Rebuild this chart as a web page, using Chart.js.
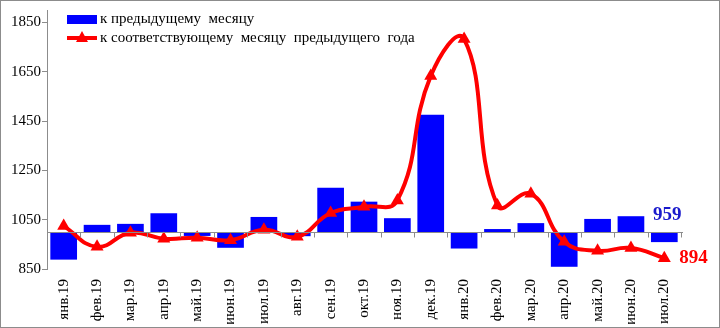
<!DOCTYPE html>
<html>
<head>
<meta charset="utf-8">
<script src="https://cdn.jsdelivr.net/npm/chart.js@4"></script>
<style>
  html, body { margin: 0; padding: 0; background: #fff; }
  #wrap { width: 720px; height: 328px; position: relative; }
</style>
</head>
<body>
<div id="wrap"><canvas id="chart"></canvas></div>
<script>
// months
var labels = ['янв.19', 'фев.19', 'мар.19', 'апр.19', 'май.19', 'июн.19', 'июл.19', 'авг.19', 'сен.19',
  'окт.19', 'ноя.19', 'дек.19', 'янв.20', 'фев.20', 'мар.20', 'апр.20', 'май.20', 'июн.20', 'июл.20'];

// к предыдущему месяцу (bars start at base 1000)
var toPrevMonth = [888, 1029, 1033, 1076, 984, 936, 1061, 983, 1179, 1123, 1056, 1475, 933, 1012, 1036, 859, 1053, 1064, 959];

// к соответствующему месяцу предыдущего года
var toPrevYear = [1024, 940, 997, 973, 977, 967, 1009, 981, 1077, 1102, 1128, 1632, 1782, 1107, 1155, 960, 924, 935, 894];

var yTicks = [850, 1050, 1250, 1450, 1650, 1850];
var base = 1000;

var serif = '"Liberation Serif", "Times New Roman", serif';

var barData = toPrevMonth.map(function(v) { return [base, v]; });

// baseline at 1000 with tick marks, legend, end labels, frame
var extras = {
  id: 'extras',
  afterDatasetsDraw: function(chart) {
    var ctx = chart.ctx;
    var x = chart.scales.x, y = chart.scales.y;
    var y0 = Math.round(y.getPixelForValue(base)) + 0.5;
    ctx.save();
    ctx.strokeStyle = '#8c8c8c';
    ctx.lineWidth = 1;
    ctx.beginPath();
    ctx.moveTo(chart.chartArea.left, y0);
    ctx.lineTo(chart.chartArea.right + 2, y0);
    var step = x.getPixelForValue(1) - x.getPixelForValue(0);
    for (var i = 1; i <= labels.length; i++) {
      var bx = Math.round(x.getPixelForValue(i) - step / 2) + 0.5;
      ctx.moveTo(bx, y0);
      ctx.lineTo(bx, y0 + 5);
    }
    ctx.stroke();
    ctx.restore();
  },
  afterDraw: function(chart) {
    var ctx = chart.ctx;
    var x = chart.scales.x, y = chart.scales.y;
    var last = labels.length - 1;
    ctx.save();
    // end value labels
    ctx.font = 'bold 19px ' + serif;
    ctx.textBaseline = 'middle';
    ctx.textAlign = 'center';
    ctx.fillStyle = '#1a1acc';
    ctx.fillText(String(toPrevMonth[last]), x.getPixelForValue(last) + 3, y.getPixelForValue(base) - 17);
    ctx.fillStyle = '#ff0000';
    ctx.textAlign = 'left';
    ctx.fillText(String(toPrevYear[last]), x.getPixelForValue(last) + 15, y.getPixelForValue(toPrevYear[last]));

    // legend
    ctx.font = '15px ' + serif;
    ctx.textAlign = 'left';
    ctx.fillStyle = '#0000ff';
    ctx.fillRect(67, 15, 30, 9);
    ctx.fillStyle = '#000';
    ctx.fillText('к предыдущему  месяцу', 100, 19);
    ctx.strokeStyle = '#ff0000';
    ctx.lineWidth = 4;
    ctx.beginPath();
    ctx.moveTo(67, 38);
    ctx.lineTo(97, 38);
    ctx.stroke();
    ctx.fillStyle = '#ff0000';
    ctx.beginPath();
    ctx.moveTo(82, 31);
    ctx.lineTo(88, 42);
    ctx.lineTo(76, 42);
    ctx.closePath();
    ctx.fill();
    ctx.fillStyle = '#000';
    ctx.fillText('к соответствующему  месяцу  предыдущего  года', 100, 38);

    // outer frame
    ctx.strokeStyle = '#8c8c8c';
    ctx.lineWidth = 1;
    ctx.strokeRect(0.5, 0.5, chart.width - 1, chart.height - 1);
    ctx.restore();
  }
};

var chart = new Chart(document.getElementById('chart'), {
  data: {
    labels: labels,
    datasets: [
      {
        type: 'line',
        label: 'к соответствующему месяцу предыдущего года',
        data: toPrevYear,
        borderColor: '#ff0000',
        backgroundColor: '#ff0000',
        borderWidth: 4,
        tension: 0.45,
        pointStyle: 'triangle',
        pointRadius: 7.5,
        pointBorderWidth: 0,
        order: 0
      },
      {
        type: 'bar',
        label: 'к предыдущему месяцу',
        data: barData,
        backgroundColor: '#0000ff',
        borderWidth: 0,
        barPercentage: 0.8,
        categoryPercentage: 1,
        order: 1
      }
    ]
  },
  options: {
    responsive: true,
    maintainAspectRatio: false,
    animation: false,
    layout: { padding: { left: 0, right: 39, top: 10, bottom: 4 } },
    plugins: {
      legend: { display: false },
      tooltip: { enabled: false }
    },
    scales: {
      x: {
        offset: true,
        grid: { display: false },
        border: { display: false },
        ticks: {
          color: '#000',
          font: { family: serif, size: 15 },
          minRotation: 90,
          maxRotation: 90,
          padding: 2,
          autoSkip: false
        },
        afterFit: function(scale) { scale.height = 55; }
      },
      y: {
        min: 850,
        max: 1900,
        afterBuildTicks: function(scale) {
          scale.ticks = yTicks.map(function(v) { return { value: v }; });
        },
        grid: { drawOnChartArea: false, drawTicks: true, tickLength: 5, color: '#8c8c8c' },
        border: { color: '#8c8c8c' },
        ticks: {
          color: '#000',
          font: { family: serif, size: 15 },
          padding: 1,
          callback: function(v) { return String(v); }
        },
        afterFit: function(scale) { scale.width = 47; }
      }
    }
  },
  plugins: [extras]
});
</script>
</body>
</html>
